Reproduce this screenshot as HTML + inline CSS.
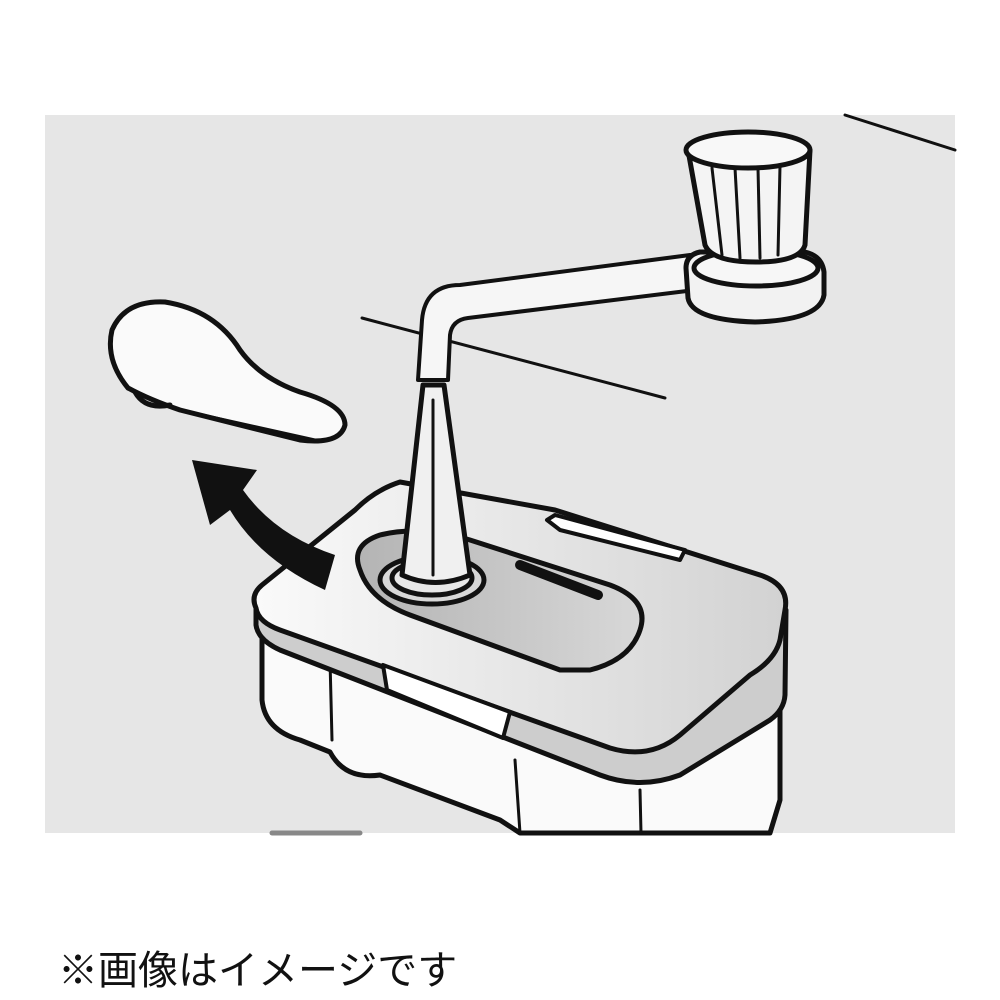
<!DOCTYPE html>
<html><head><meta charset="utf-8"><style>
body{margin:0;width:1000px;height:1000px;background:#fff;overflow:hidden}
svg{position:absolute;left:0;top:0}
.t{position:absolute;left:58px;top:938px;font-family:"Liberation Sans","Noto Sans CJK JP",sans-serif;font-size:40px;color:#111;letter-spacing:0px}
</style></head><body>
<svg width="1000" height="1000" viewBox="0 0 1000 1000">
<defs>
<linearGradient id="lid" x1="0" y1="0" x2="1" y2="0"><stop offset="0" stop-color="#fafafa"/><stop offset="1" stop-color="#d2d2d2"/></linearGradient>
<linearGradient id="well" x1="0" y1="0" x2="1" y2="0"><stop offset="0" stop-color="#b4b4b4"/><stop offset="1" stop-color="#d8d8d8"/></linearGradient>
</defs>
<rect x="45" y="115" width="910" height="718" fill="#e6e6e6"/>
<g stroke="#111" stroke-width="5" fill="none" stroke-linecap="round" stroke-linejoin="round">
<line x1="845" y1="115" x2="955" y2="150" stroke-width="3"/>
<line x1="362" y1="318" x2="665" y2="398" stroke-width="3"/>
<line x1="272" y1="833" x2="360" y2="833" stroke="#888" stroke-width="5"/>
<!-- box body -->
<path d="M262 630 L262 700 Q265 730 300 740 L330 752 Q345 780 380 775 L500 820 L520 833 L770 833 L780 800 L780 640 Z" fill="#fafafa"/>
<line x1="330" y1="660" x2="332" y2="740" stroke-width="3"/>
<line x1="640" y1="790" x2="641" y2="833" stroke-width="3"/>
<line x1="515" y1="760" x2="520" y2="833" stroke-width="3"/>
<!-- lid band -->
<path d="M256 605 L256 625 Q258 640 280 650 L600 775 Q640 790 680 775 L770 720 Q784 710 785 695 L786 610 Z" fill="#cdcdcd"/>
<!-- lid top -->
<path d="M256 608 Q250 595 262 585 L355 510 Q375 490 400 482 L555 510 L760 575 Q790 585 785 610 L780 640 Q775 660 750 675 L680 735 Q650 760 610 748 L280 630 Q258 622 256 608 Z" fill="url(#lid)"/>
<!-- clip tabs -->
<path d="M383 665 L387 690 L503 738 L510 712 Z" fill="#fff" stroke-width="4"/>
<path d="M547 520 L555 515 L685 550 L680 560 L560 530 Z" fill="#fff" stroke-width="4"/>
<!-- well -->
<path d="M360 570 Q350 545 380 535 Q420 525 470 540 L610 585 Q650 600 640 630 Q630 660 590 670 L560 670 L410 615 Q370 600 360 570 Z" fill="url(#well)"/>
<ellipse cx="432" cy="580" rx="52" ry="24" fill="#d8d8d8"/>
<ellipse cx="432" cy="578" rx="40" ry="17" fill="#e8e8e8"/>
<line x1="520" y1="565" x2="598" y2="595" stroke-width="10"/>
<!-- cone -->
<path d="M423 385 L444 385 L470 575 Q435 590 402 575 Z" fill="#f0f0f0"/>
<line x1="433" y1="400" x2="433" y2="575" stroke-width="3"/>
<!-- pipe -->
<path d="M418 380 L422 320 Q425 285 460 285 L690 255 L695 290 L468 318 Q452 320 450 335 L448 380 Z" fill="#f6f6f6" stroke-width="4"/>
<!-- knob -->
<path d="M686 268 Q686 255 700 252 L805 252 Q822 256 824 272 L824 295 Q820 320 755 322 Q692 320 688 298 Z" fill="#f2f2f2"/>
<ellipse cx="756" cy="268" rx="62" ry="18" fill="#f7f7f7"/>
<path d="M688 150 L705 245 Q712 262 756 262 Q800 262 805 245 L810 150 Z" fill="#f4f4f4"/>
<ellipse cx="748" cy="150" rx="62" ry="18" fill="#f8f8f8"/>
<g stroke-width="3"><line x1="712" y1="168" x2="722" y2="255"/><line x1="735" y1="168" x2="740" y2="258"/><line x1="758" y1="168" x2="760" y2="258"/><line x1="780" y1="166" x2="778" y2="255"/></g>
<!-- handle -->
<path d="M128 388 Q105 360 112 330 Q125 300 165 302 Q215 310 240 350 Q260 378 300 392 Q345 405 345 425 Q340 445 300 440 L180 410 Q150 400 128 388 Z" fill="#fafafa"/>
<path d="M135 392 Q145 410 170 405" />
<path d="M180 410 L315 440" stroke-width="3"/>
</g>
<!-- arrow -->
<path d="M335 555 L325 590 Q260 560 230 510 L210 525 L192 460 L257 470 L243 490 Q275 535 335 555 Z" fill="#111"/>
</svg>
<div class="t">※画像はイメージです</div>
</body></html>
